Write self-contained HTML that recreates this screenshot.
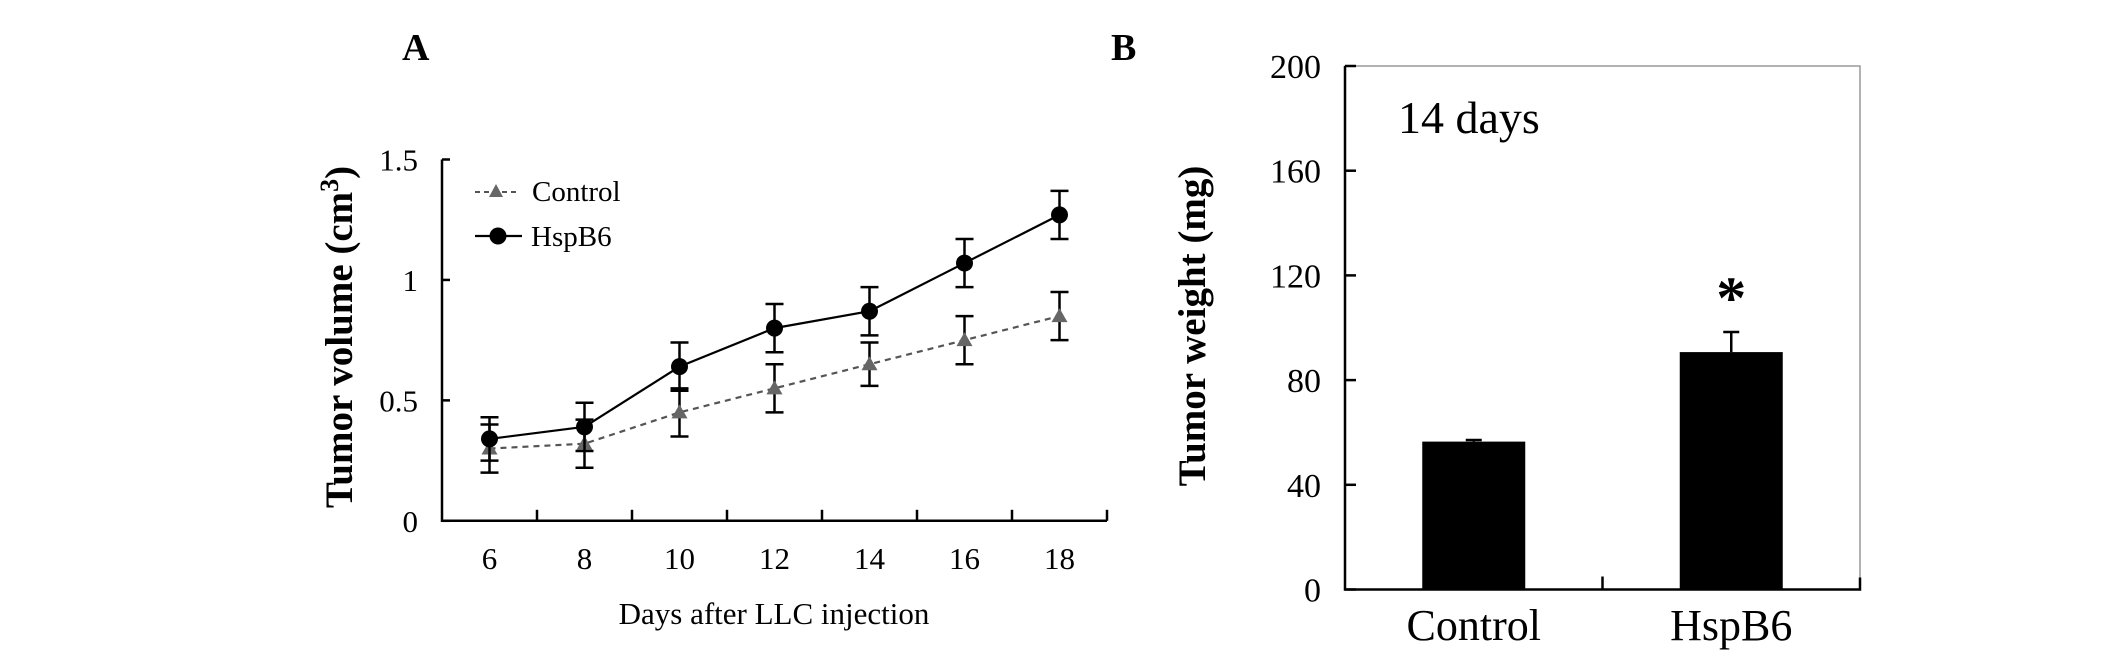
<!DOCTYPE html>
<html><head><meta charset="utf-8"><style>
html,body{margin:0;padding:0;background:#fff;}
svg{display:block;font-family:"Liberation Serif",serif;}
</style></head><body>
<svg id="fig" width="2126" height="665" viewBox="0 0 2126 665">
<text x="402" y="60" font-size="38" font-weight="bold">A</text>
<text x="1111" y="60" font-size="38" font-weight="bold">B</text>
<g id="chartA"></g>
<g id="chartB"></g>
</svg>
<script>
// Panel A data
const daysA = [6, 8, 10, 12, 14, 16, 18];
const hspVals = [0.34, 0.39, 0.64, 0.80, 0.87, 1.07, 1.27];
const hspErr = [0.09, 0.10, 0.10, 0.10, 0.10, 0.10, 0.10];
const ctrlVals = [0.30, 0.32, 0.45, 0.55, 0.65, 0.75, 0.85];
const ctrlErr = [0.10, 0.10, 0.10, 0.10, 0.09, 0.10, 0.10];
const yTicksA = [0, 0.5, 1, 1.5];
// Panel B data
const groupsB = ["Control", "HspB6"];
const weightVals = [56.5, 90.7];
const weightErr = [0.6, 7.7];
const yTicksB = [0, 40, 80, 120, 160, 200];

const NS = "http://www.w3.org/2000/svg";
function mk(parent, tag, attrs, text) {
  const e = document.createElementNS(NS, tag);
  for (const k in attrs) e.setAttribute(k, attrs[k]);
  if (text !== undefined) e.textContent = text;
  parent.appendChild(e);
  return e;
}

// ---- Panel A ----
const A = document.getElementById("chartA");
const axL = 442, axR = 1107, y0A = 520.8, y1A = 159.5, band = (axR - axL) / daysA.length;
const xA = i => axL + band * (i + 0.5);
const yA = v => y0A - (v / 1.5) * (y0A - y1A);

let e = mk(A, "path", {d: `M${axL},${y1A} V${y0A} H${axR}`, stroke: "#000", "stroke-width": 2.5, fill: "none"});


yTicksA.forEach(t => {
  const y = yA(t);
  let tk = mk(A, "line", {x1: axL, x2: axL + 8, y1: y, y2: y, stroke: "#000", "stroke-width": 2.5});
  
  
  let lb = mk(A, "text", {x: 418, y: y + 11, "font-size": 31, "text-anchor": "end"}, String(t));
  
  
});
for (let i = 1; i <= daysA.length; i++) {
  const x = axL + band * i;
  let tk = mk(A, "line", {x1: x, x2: x, y1: y0A, y2: y0A - 11, stroke: "#000", "stroke-width": 2.5});
  
  
}
daysA.forEach((d, i) => {
  let lb = mk(A, "text", {x: xA(i), y: 569, "font-size": 31, "text-anchor": "middle"}, String(d));
  
  
});
e = mk(A, "text", {x: 774, y: 624, "font-size": 31, "text-anchor": "middle"}, "Days after LLC injection");


e = mk(A, "text", {x: 0, y: 0, "font-size": 39, "font-weight": "bold", "text-anchor": "middle", transform: "translate(352,337) rotate(-90)"});


e.innerHTML = 'Tumor volume (cm<tspan dy="-14" font-size="26">3</tspan><tspan dy="14">)</tspan>';

function series(vals, errs, color, dash, marker, name) {
  const pts = vals.map((v, i) => `${xA(i)},${yA(v)}`).join(" ");
  let ln = mk(A, "polyline", {points: pts, fill: "none", stroke: color, "stroke-width": 2.2, "stroke-dasharray": dash});
  
  
  vals.forEach((v, i) => {
    const x = xA(i), yt = yA(v + errs[i]), yb = yA(v - errs[i]);
    let eb = mk(A, "path", {d: `M${x},${yt} V${yb} M${x - 9},${yt} H${x + 9} M${x - 9},${yb} H${x + 9}`, stroke: "#000", "stroke-width": 2.5, fill: "none"});
    
    
    let m;
    if (marker === "circle") m = mk(A, "circle", {cx: x, cy: yA(v), r: 8.5, fill: "#000"});
    else m = mk(A, "path", {d: `M${x},${yA(v) - 8} L${x + 8},${yA(v) + 6} L${x - 8},${yA(v) + 6} Z`, fill: "#666"});
    
    
  });
}
series(ctrlVals, ctrlErr, "#555", "6,5", "tri", "control");
series(hspVals, hspErr, "#000", "", "circle", "hspb6");

// legend
e = mk(A, "line", {x1: 475, x2: 518, y1: 192, y2: 192, stroke: "#555", "stroke-width": 2, "stroke-dasharray": "5,4"});


e = mk(A, "path", {d: "M496,184 L503,197 L489,197 Z", fill: "#666"});


e = mk(A, "text", {x: 532, y: 201, "font-size": 29}, "Control");


e = mk(A, "line", {x1: 475, x2: 522, y1: 236, y2: 236, stroke: "#000", "stroke-width": 2.2});


e = mk(A, "circle", {cx: 498, cy: 236, r: 8.5, fill: "#000"});


e = mk(A, "text", {x: 531, y: 246, "font-size": 29}, "HspB6");



// ---- Panel B ----
const B = document.getElementById("chartB");
const bL = 1345, bR = 1860, y0B = 589.5, y1B = 66, bandB = (bR - bL) / groupsB.length;
const xB = i => bL + bandB * (i + 0.5);
const yB = v => y0B - (v / 200) * (y0B - y1B);
e = mk(B, "rect", {x: bL, y: y1B, width: bR - bL, height: y0B - y1B, fill: "none", stroke: "#999", "stroke-width": 1.5});


e = mk(B, "path", {d: `M${bL},${y1B} V${y0B} H${bR} V${y0B - 12}`, stroke: "#000", "stroke-width": 2.5, fill: "none"});


yTicksB.forEach(t => {
  const y = yB(t);
  let tk = mk(B, "line", {x1: bL, x2: bL + 11, y1: y, y2: y, stroke: "#000", "stroke-width": 2.5});
  
  
  let lb = mk(B, "text", {x: 1321, y: y + 12, "font-size": 34, "text-anchor": "end"}, String(t));
  
  
});
e = mk(B, "line", {x1: bL + bandB, x2: bL + bandB, y1: y0B, y2: y0B - 13, stroke: "#000", "stroke-width": 2.5});


groupsB.forEach((g, i) => {
  const x = xB(i), bw = 103;
  let r = mk(B, "rect", {x: x - bw / 2, y: yB(weightVals[i]), width: bw, height: y0B - yB(weightVals[i]), fill: "#000"});
  
  
  const yt = yB(weightVals[i] + weightErr[i]);
  let eb = mk(B, "path", {d: `M${x},${yB(weightVals[i])} V${yt} M${x - 8},${yt} H${x + 8}`, stroke: "#000", "stroke-width": 2.5, fill: "none"});
  
  
  let lb = mk(B, "text", {x: x, y: 640, "font-size": 44, "text-anchor": "middle"}, g);
  
  
});
e = mk(B, "text", {x: xB(1), y: 318, "font-size": 60, "font-weight": "bold", "text-anchor": "middle"}, "*");


e = mk(B, "text", {x: 1398, y: 133, "font-size": 46}, "14 days");


e = mk(B, "text", {x: 0, y: 0, "font-size": 39, "font-weight": "bold", "text-anchor": "middle", transform: "translate(1205,326) rotate(-90)"}, "Tumor weight (mg)");


</script>
</body></html>
